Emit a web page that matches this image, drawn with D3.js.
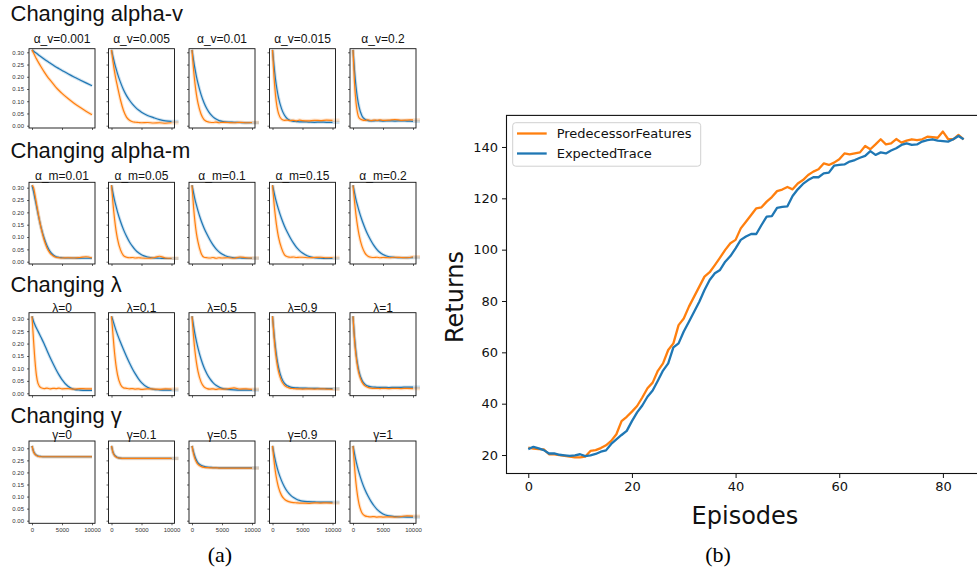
<!DOCTYPE html>
<html>
<head>
<meta charset="utf-8">
<script src="https://cdn.jsdelivr.net/npm/d3@7"></script>
<style>
  body { margin: 0; background: #fff; }
  svg { display: block; }
</style>
</head>
<body>
<div id="chart"></div>
<script>
const width = 977;
const height = 571;

const blue = "#1f77b4";
const orange = "#ff7f0e";

// ---------- data for panel (a) ----------
// time steps the small curves were read at
const tSteps = [0, 250, 500, 750, 1000, 1500, 2000, 2500, 3000, 3500, 4000, 4500, 5000, 6000, 7000, 8000, 9000, 10000];

const rowTitles = ["Changing alpha-v", "Changing alpha-m", "Changing λ", "Changing γ"];
const panelTitles = [
  ["α_v=0.001", "α_v=0.005", "α_v=0.01", "α_v=0.015", "α_v=0.2"],
  ["α_m=0.01", "α_m=0.05", "α_m=0.1", "α_m=0.15", "α_m=0.2"],
  ["λ=0", "λ=0.1", "λ=0.5", "λ=0.9", "λ=1"],
  ["γ=0", "γ=0.1", "γ=0.5", "γ=0.9", "γ=1"]
];
const smallYTicks = [0, 0.05, 0.1, 0.15, 0.2, 0.25, 0.3];
const smallXTicks = [0, 5000, 10000];

const alphaVBlue = [
  [.310, .305, .300, .296, .291, .282, .273, .264, .256, .248, .240, .233, .226, .212, .199, .187, .175, .163],
  [.310, .282, .257, .234, .213, .177, .147, .123, .104, .088, .075, .064, .055, .042, .033, .025, .020, .018],
  [.310, .268, .232, .200, .173, .128, .094, .068, .049, .036, .027, .021, .018, .015, .014, .013, .012, .012],
  [.310, .245, .190, .148, .115, .070, .043, .028, .021, .018, .017, .016, .016, .015, .014, .015, .014, .014],
  [.310, .225, .160, .112, .078, .040, .026, .021, .020, .020, .021, .020, .019, .020, .019, .020, .019, .018]
];
const alphaVOrange = [
  [.310, .297, .285, .273, .262, .241, .221, .203, .187, .172, .157, .144, .132, .111, .092, .075, .059, .045],
  [.310, .262, .222, .188, .160, .105, .062, .035, .022, .016, .014, .013, .012, .013, .011, .012, .010, .012],
  [.310, .232, .172, .126, .092, .048, .025, .017, .014, .013, .015, .012, .014, .013, .012, .014, .012, .013],
  [.310, .200, .125, .078, .050, .027, .022, .023, .021, .022, .020, .023, .021, .020, .022, .021, .023, .022],
  [.310, .175, .095, .052, .032, .024, .022, .024, .021, .023, .022, .024, .022, .023, .025, .022, .023, .024]
];
const alphaMBlue = [
  [.310, .285, .255, .225, .195, .140, .097, .065, .042, .028, .020, .017, .016, .015, .015, .014, .014, .014],
  [.310, .278, .250, .225, .202, .163, .130, .103, .080, .062, .047, .036, .028, .019, .015, .014, .013, .013],
  [.310, .280, .252, .228, .206, .168, .137, .111, .088, .068, .052, .040, .031, .020, .016, .015, .014, .014],
  [.310, .282, .256, .233, .212, .175, .144, .118, .095, .075, .058, .045, .035, .022, .016, .014, .013, .013],
  [.310, .280, .252, .228, .206, .168, .136, .108, .085, .065, .049, .037, .029, .020, .017, .016, .016, .016]
];
const alphaMOrange = [
  [.310, .300, .270, .235, .200, .138, .090, .056, .035, .024, .018, .016, .015, .016, .015, .017, .020, .015],
  [.310, .235, .175, .128, .093, .048, .025, .018, .016, .017, .015, .016, .015, .014, .016, .022, .015, .014],
  [.310, .225, .160, .113, .080, .035, .018, .016, .015, .017, .014, .016, .015, .016, .014, .019, .016, .015],
  [.310, .238, .180, .135, .100, .055, .028, .020, .018, .019, .017, .018, .018, .016, .017, .018, .016, .017],
  [.310, .245, .190, .145, .110, .062, .035, .022, .018, .017, .018, .016, .017, .016, .018, .017, .016, .020]
];
const lambdaBlue = [
  [.310, .290, .275, .262, .250, .225, .200, .172, .145, .120, .096, .074, .055, .028, .016, .013, .012, .012],
  [.310, .292, .272, .253, .236, .205, .176, .148, .122, .098, .077, .058, .043, .024, .016, .014, .013, .013],
  [.310, .272, .238, .208, .182, .138, .104, .078, .058, .043, .032, .025, .020, .016, .014, .013, .013, .013],
  [.310, .240, .183, .138, .104, .062, .040, .030, .025, .023, .022, .021, .021, .020, .020, .019, .019, .019],
  [.310, .225, .163, .118, .087, .052, .036, .029, .026, .025, .024, .024, .024, .023, .024, .024, .025, .025]
];
const lambdaOrange = [
  [.310, .215, .130, .070, .040, .022, .019, .021, .018, .020, .019, .021, .018, .019, .017, .019, .018, .018],
  [.310, .235, .165, .112, .075, .035, .022, .020, .018, .019, .017, .018, .016, .018, .017, .016, .018, .017],
  [.310, .230, .168, .122, .088, .046, .026, .019, .017, .018, .016, .018, .017, .018, .022, .017, .018, .016],
  [.310, .228, .165, .120, .088, .050, .032, .024, .020, .019, .018, .018, .017, .018, .017, .018, .017, .016],
  [.310, .215, .152, .108, .078, .045, .030, .024, .021, .020, .020, .019, .020, .019, .020, .019, .020, .019]
];
const gammaBlue = [
  [.310, .288, .277, .271, .268, .266, .265, .265, .265, .265, .265, .265, .265, .265, .265, .265, .265, .265],
  [.310, .284, .272, .266, .262, .259, .258, .258, .258, .258, .258, .258, .258, .258, .258, .258, .258, .258],
  [.310, .285, .265, .250, .240, .230, .225, .222, .221, .220, .220, .219, .219, .219, .219, .219, .219, .219],
  [.310, .276, .247, .222, .200, .166, .140, .120, .106, .096, .089, .084, .081, .079, .078, .077, .077, .077],
  [.310, .278, .248, .222, .199, .160, .128, .102, .080, .062, .047, .036, .028, .020, .017, .016, .015, .015]
];
const gammaOrange = [
  [.310, .286, .275, .270, .267, .265, .265, .265, .265, .265, .265, .265, .265, .265, .265, .265, .265, .265],
  [.310, .282, .270, .264, .261, .259, .258, .258, .258, .258, .258, .258, .258, .258, .258, .258, .258, .258],
  [.310, .278, .256, .242, .233, .225, .221, .220, .219, .219, .219, .218, .218, .218, .218, .218, .218, .218],
  [.310, .250, .200, .165, .138, .105, .089, .081, .077, .075, .074, .073, .073, .072, .074, .073, .074, .073],
  [.310, .225, .155, .105, .070, .032, .020, .017, .016, .017, .015, .016, .015, .016, .015, .017, .020, .019]
];

// ---------- data for panel (b) ----------
const episodes = d3.range(85);
const predecessorFeatures = [
  22.9, 22.5, 22.3, 22.2, 20.3, 20.3, 20.0, 19.7, 19.4, 19.1,
  19.1, 19.4, 21.6, 21.9, 22.7, 23.8, 25.5, 28.1, 33.2, 34.9,
  36.9, 39.1, 42.4, 46.0, 48.2, 52.8, 55.7, 60.9, 63.5, 70.6,
  73.2, 77.8, 81.7, 85.6, 89.5, 91.2, 94.0, 96.9, 99.9, 102.5,
  103.8, 108.3, 110.9, 113.5, 116.1, 116.5, 118.7, 120.5, 122.8, 123.4,
  124.4, 123.5, 125.8, 127.1, 129.1, 130.4, 131.3, 133.6, 133.0, 133.9,
  135.2, 137.5, 137.1, 137.5, 137.9, 140.4, 139.1, 141.0, 143.0, 141.0,
  141.4, 143.1, 141.7, 142.5, 143.0, 142.7, 143.0, 144.0, 143.8, 143.6,
  146.0, 143.1, 143.0, 144.7, 143.0
];
const expectedTrace = [
  22.3, 23.2, 22.6, 21.9, 20.6, 20.6, 20.1, 19.9, 19.7, 19.9,
  20.3, 19.6, 19.9, 20.4, 21.3, 21.8, 24.3, 26.1, 27.8, 29.4,
  33.2, 36.6, 39.3, 42.7, 45.1, 48.9, 52.9, 55.7, 61.9, 63.5,
  68.1, 71.9, 75.8, 79.7, 84.3, 88.2, 90.8, 92.1, 95.3, 97.5,
  100.5, 103.8, 105.1, 106.1, 106.1, 109.6, 112.9, 113.1, 116.3, 116.7,
  116.9, 120.9, 123.5, 125.6, 127.1, 128.2, 128.2, 129.7, 130.0, 132.7,
  133.0, 133.2, 134.3, 134.9, 135.8, 136.5, 138.4, 136.9, 137.9, 137.5,
  138.6, 139.5, 140.8, 141.4, 140.8, 141.0, 142.1, 142.7, 143.0, 142.5,
  142.3, 142.1, 143.0, 144.3, 143.0
];
const legendLabels = ["PredecessorFeatures", "ExpectedTrace"];
const returnsXTicks = [0, 20, 40, 60, 80];
const returnsYTicks = [20, 40, 60, 80, 100, 120, 140];

// ---------- layout ----------
// each row of (a) was pasted in separately, so each has its own offsets
const rowLayout = [
  { title: 21, sub: 42.7, top: 48.7, bottom: 128, y30: 52.3, y0: 125.7 },
  { title: 158.3, sub: 180, top: 182.3, bottom: 264, y30: 187.7, y0: 261.7 },
  { title: 292.3, sub: 311.7, top: 312.7, bottom: 395.7, y30: 318.7, y0: 393.3 },
  { title: 423.3, sub: 438.8, top: 441, bottom: 523.3, y30: 448.3, y0: 520.7 }
];
const panelLefts = [29, 108.5, 189, 269.5, 350];
const panelWidth = 66;
const bandOverhang = 7; // the faint band runs past the right spine in the source

const sansSmall = "'Liberation Sans', Arial, sans-serif";
const dejavu = "'DejaVu Sans', sans-serif";
const serif = "'Liberation Serif', 'DejaVu Serif', serif";

const svg = d3.select("#chart")
  .append("svg")
  .attr("width", width)
  .attr("height", height)
  .attr("viewBox", [0, 0, width, height]);

const rowBlue = [alphaVBlue, alphaMBlue, lambdaBlue, gammaBlue];
const rowOrange = [alphaVOrange, alphaMOrange, lambdaOrange, gammaOrange];

function drawSmallPanel(row, col) {
  const lay = rowLayout[row];
  const left = panelLefts[col];
  const x = d3.scaleLinear().domain([-500, 10500]).range([left, left + panelWidth]);
  const y = d3.scaleLinear().domain([0, 0.3]).range([lay.y0, lay.y30]);

  const g = svg.append("g").attr("class", "small-panel");
  const clipId = `clip-${row}-${col}`;
  g.append("clipPath").attr("id", clipId)
    .append("rect")
    .attr("x", left).attr("y", lay.top)
    .attr("width", panelWidth).attr("height", lay.bottom - lay.top);

  const line = d3.line()
    .x((d) => x(d[0]))
    .y((d) => y(d[1]))
    .curve(d3.curveMonotoneX);

  const series = [
    { values: rowBlue[row][col], color: blue, bandOpacity: 0.22, bandWidth: 3.2 },
    { values: rowOrange[row][col], color: orange, bandOpacity: 0.22, bandWidth: 3.4 }
  ];

  series.forEach((s) => {
    const pts = s.values.map((v, i) => [tSteps[i], v]);
    const bandPts = pts.slice();
    if (col > 0) {
      // faint shading spills past the axes box
      bandPts.push([x.invert(x(10000) + bandOverhang), s.values[s.values.length - 1]]);
    }
    g.append("path")
      .attr("d", line(bandPts))
      .attr("fill", "none")
      .attr("stroke", s.color)
      .attr("stroke-opacity", s.bandOpacity)
      .attr("stroke-width", s.bandWidth)
      .attr("stroke-linejoin", "round");
  });

  series.forEach((s) => {
    const pts = s.values.map((v, i) => [tSteps[i], v]);
    g.append("path")
      .attr("clip-path", `url(#${clipId})`)
      .attr("d", line(pts))
      .attr("fill", "none")
      .attr("stroke", s.color)
      .attr("stroke-width", 1.2)
      .attr("stroke-linejoin", "round");
  });

  // y ticks (labels only on the first column)
  const yAxis = g.append("g")
    .attr("transform", `translate(${left},0)`)
    .call(d3.axisLeft(y).tickValues(smallYTicks).tickSize(2).tickPadding(3)
      .tickFormat(col === 0 ? d3.format(".2f") : () => ""));
  yAxis.select(".domain").remove();

  const xAxis = g.append("g")
    .attr("transform", `translate(0,${lay.bottom})`)
    .call(d3.axisBottom(x).tickValues(smallXTicks).tickSize(2).tickPadding(2)
      .tickFormat(row === 3 ? d3.format("d") : () => ""));
  xAxis.select(".domain").remove();

  g.selectAll(".tick line").attr("stroke", "#222").attr("stroke-width", 0.7);
  g.selectAll(".tick text")
    .attr("font-family", sansSmall)
    .attr("font-size", 6)
    .attr("fill", "#333");

  // axes box
  g.append("rect")
    .attr("x", left).attr("y", lay.top)
    .attr("width", panelWidth).attr("height", lay.bottom - lay.top)
    .attr("fill", "none")
    .attr("stroke", "#111")
    .attr("stroke-width", 0.9);

  g.append("text")
    .attr("x", left + panelWidth / 2)
    .attr("y", lay.sub)
    .attr("text-anchor", "middle")
    .attr("font-family", sansSmall)
    .attr("font-size", 12)
    .attr("fill", "#111")
    .text(panelTitles[row][col]);
}

rowTitles.forEach((title, row) => {
  svg.append("text")
    .attr("x", 10.5)
    .attr("y", rowLayout[row].title)
    .attr("font-family", sansSmall)
    .attr("font-size", 22)
    .attr("fill", "#111")
    .text(title);
  panelTitles[row].forEach((_, col) => drawSmallPanel(row, col));
});

svg.append("text")
  .attr("x", 220)
  .attr("y", 562)
  .attr("text-anchor", "middle")
  .attr("font-family", serif)
  .attr("font-size", 22)
  .text("(a)");

// ---------- panel (b) ----------
function drawReturns() {
  const x = d3.scaleLinear().domain([-4.2, 88.2]).range([506.5, 985.4]);
  const y = d3.scaleLinear().domain([12.8, 152.3]).range([473.5, 115.4]);
  const g = svg.append("g").attr("id", "returnsChart");

  const line = d3.line()
    .x((d, i) => x(episodes[i]))
    .y((d) => y(d));

  g.append("path")
    .attr("d", line(predecessorFeatures))
    .attr("fill", "none")
    .attr("stroke", orange)
    .attr("stroke-width", 2.3)
    .attr("stroke-linejoin", "round");

  g.append("path")
    .attr("d", line(expectedTrace))
    .attr("fill", "none")
    .attr("stroke", blue)
    .attr("stroke-width", 2.3)
    .attr("stroke-linejoin", "round");

  const xAxis = g.append("g")
    .attr("transform", `translate(0,${y(12.8)})`)
    .call(d3.axisBottom(x).tickValues(returnsXTicks).tickSize(4.5).tickPadding(4));
  const yAxis = g.append("g")
    .attr("transform", `translate(${x(-4.2)},0)`)
    .call(d3.axisLeft(y).tickValues(returnsYTicks).tickSize(4.5).tickPadding(4));
  xAxis.select(".domain").remove();
  yAxis.select(".domain").remove();
  g.selectAll(".tick line").attr("stroke", "#111").attr("stroke-width", 1);
  g.selectAll(".tick text")
    .attr("font-family", dejavu)
    .attr("font-size", 13)
    .attr("fill", "#111");

  // spines (the right one falls off the page, as in the source)
  g.append("rect")
    .attr("x", x(-4.2)).attr("y", y(152.3))
    .attr("width", x(88.2) - x(-4.2))
    .attr("height", y(12.8) - y(152.3))
    .attr("fill", "none")
    .attr("stroke", "#111")
    .attr("stroke-width", 1.1);

  g.append("text")
    .attr("x", 745)
    .attr("y", 524)
    .attr("text-anchor", "middle")
    .attr("font-family", dejavu)
    .attr("font-size", 24)
    .attr("fill", "#111")
    .text("Episodes");

  g.append("text")
    .attr("transform", "translate(463,297) rotate(-90)")
    .attr("text-anchor", "middle")
    .attr("font-family", dejavu)
    .attr("font-size", 24)
    .attr("fill", "#111")
    .text("Returns");

  // legend
  const legend = g.append("g").attr("id", "legend");
  legend.append("rect")
    .attr("x", 512.7).attr("y", 122.7)
    .attr("width", 188).attr("height", 43.5)
    .attr("rx", 3)
    .attr("fill", "#fff")
    .attr("fill-opacity", 0.8)
    .attr("stroke", "#d0d0d0");
  const legendColors = [orange, blue];
  legendLabels.forEach((label, i) => {
    const ly = 133.5 + i * 20;
    legend.append("line")
      .attr("x1", 517).attr("x2", 546.7)
      .attr("y1", ly).attr("y2", ly)
      .attr("stroke", legendColors[i])
      .attr("stroke-width", 2.3);
    legend.append("text")
      .attr("x", 556.7)
      .attr("y", ly + 4.7)
      .attr("font-family", dejavu)
      .attr("font-size", 13)
      .attr("fill", "#111")
      .text(label);
  });

  svg.append("text")
    .attr("x", 718)
    .attr("y", 562)
    .attr("text-anchor", "middle")
    .attr("font-family", serif)
    .attr("font-size", 22)
    .text("(b)");
}

drawReturns();
</script>
</body>
</html>
